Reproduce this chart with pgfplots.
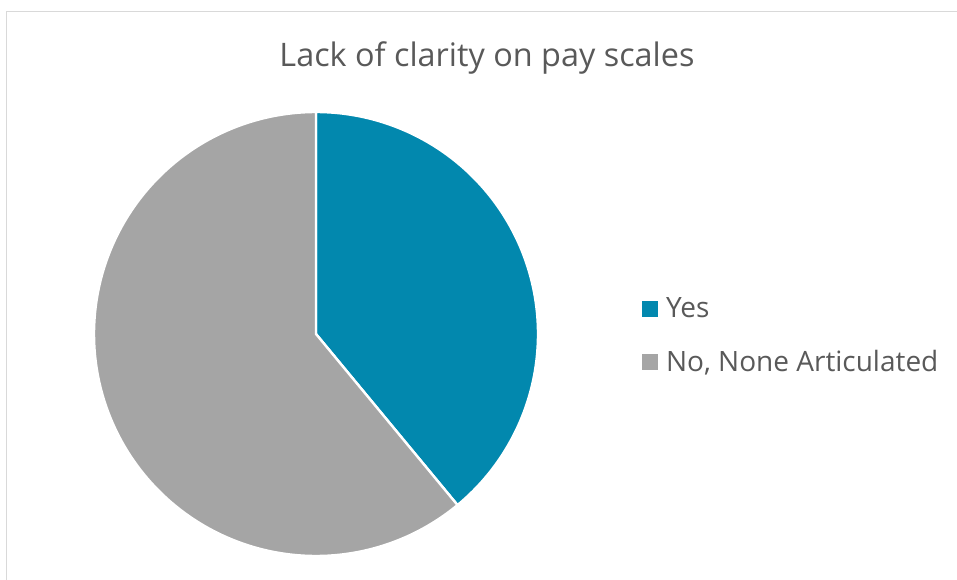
\documentclass[border=0pt]{standalone}
\usepackage{pgfplots}
\pgfplotsset{compat=1.18}
\usepackage{fontspec}
\setmainfont{Open Sans}
\definecolor{yescol}{HTML}{0288AE}
\definecolor{nocol}{HTML}{A5A5A5}
\definecolor{txt}{HTML}{595959}
\definecolor{frame}{HTML}{D9D9D9}
% data: share of responses (percent)
\def\yesval{39}
\def\noval{61}
\pgfmathsetmacro{\yesang}{\yesval/(\yesval+\noval)*360}
\pgfmathsetmacro{\yesstart}{90-\yesang}
\begin{document}
\begin{tikzpicture}[x=0.5pt,y=0.5pt]
\useasboundingbox (0,0) rectangle (957,579);
\draw[color=frame, line width=0.8pt] (6.5,-5) -- (6.5,567.5) -- (970,567.5);
\begin{axis}[at={(0,0)}, anchor=origin, scale only axis,
  width=478.5pt, height=289.5pt,
  xmin=0, xmax=957, ymin=0, ymax=579,
  hide axis, clip=false,
  legend style={at={(axis cs:636,243)}, anchor=west, draw=none, fill=none,
    font=\fontsize{14}{16}\selectfont\color{txt}, row sep=10.7pt,
    /tikz/every odd column/.append style={column sep=2pt}},
  legend cell align=left]
\addplot[fill=yescol, draw=white, line width=1.2pt, domain=\yesstart:90, samples=181,
  legend image code/.code={\fill[yescol] (0pt,-3.3pt) rectangle (6.6pt,3.3pt);}]
  ({316+222*cos(x)},{245+222*sin(x)}) -- (axis cs:316,245) -- cycle;
\addlegendentry{Yes}
\addplot[fill=nocol, draw=white, line width=1.2pt, domain=90:\yesstart+360, samples=181,
  legend image code/.code={\fill[nocol] (0pt,-3.3pt) rectangle (6.6pt,3.3pt);}]
  ({316+222*cos(x)},{245+222*sin(x)}) -- (axis cs:316,245) -- cycle;
\addlegendentry{No, None Articulated}
\node[txt, font=\fontsize{16.2}{19}\selectfont, anchor=base] at (axis cs:487,512) {Lack of clarity on pay scales};
\end{axis}
\end{tikzpicture}
\end{document}
